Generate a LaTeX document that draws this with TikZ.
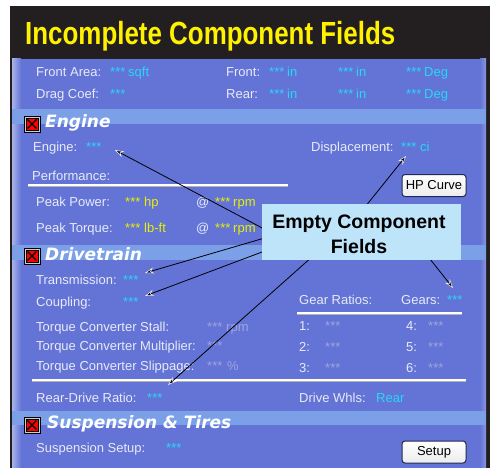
\documentclass[tikz,border=0pt]{standalone}
\usepackage{fontspec}
\setmainfont{Liberation Sans}
\newfontfamily\hdrfont{DejaVu Sans}
\usetikzlibrary{arrows.meta}
\definecolor{framec}{RGB}{35,31,32}
\definecolor{panelc}{RGB}{99,116,214}
\definecolor{bandc}{RGB}{124,160,232}
\definecolor{lblc}{RGB}{232,234,246}
\definecolor{cyv}{RGB}{40,215,245}
\definecolor{yelv}{RGB}{232,240,0}
\definecolor{dimc}{RGB}{158,164,222}
\definecolor{titley}{RGB}{255,242,0}
\definecolor{callc}{RGB}{190,228,250}
\definecolor{btnedge}{RGB}{30,40,80}
\newcommand\tx[5]{\node[lbl,#1] (#2) at (#3,#4) {#5};}
\newcommand\hdr[4]{\node[hdrtxt] (#1) at (#2,#3) {#4};}
\newcommand\chkbox[3]{%
  \node[draw=black, line width=0.9pt, fill=gray!40, minimum size=16pt, inner sep=0] (#1) at (#2,#3) {};
  \fill[red, draw=black, line width=0.6pt] (#2-6,#3-6) rectangle (#2+6,#3+6);
  \draw[black, line width=1.3pt] (#2-4.5,#3-4.5) -- (#2+4.5,#3+4.5) (#2-4.5,#3+4.5) -- (#2+4.5,#3-4.5);}
\tikzset{
  lbl/.style={anchor=base west, inner sep=0, text=lblc, font=\fontsize{13}{15}\selectfont},
  cy/.style={text=cyv},
  ye/.style={text=yelv},
  dm/.style={text=dimc},
  hdrtxt/.style={anchor=base west, inner sep=0, text=white, font=\hdrfont\bfseries\itshape\fontsize{17}{20}\selectfont},
  sepline/.style={line width=1.4pt, white},
  btn/.style={draw=btnedge, line width=1pt, rounded corners=3pt, top color=white, bottom color=gray!15,
    minimum width=64pt, minimum height=22pt, inner sep=0, text=black, font=\fontsize{13}{15}\selectfont},
  callarrow/.style={black, line width=0.8pt, -{Stealth[length=9pt,width=6pt,color=white,fill=black,line width=0.5pt]}},
  calltxt/.style={anchor=base, inner sep=0, text=black, font=\bfseries\fontsize{19.5}{24}\selectfont}
}
\begin{document}
\begin{tikzpicture}[x=1pt,y=-1pt]
\useasboundingbox (0,0) rectangle (490,468);
\fill[white] (0,0) rectangle (490,468);
\fill[framec] (10,6) rectangle (490,468);
\fill[panelc] (12,59) rectangle (486,468);
\shade[left color=panelc!55!white, right color=panelc] (12,59) rectangle (21,468);
\shade[left color=panelc, right color=panelc!75!white] (480,59) rectangle (486,468);
\fill[bandc] (12,109) rectangle (486,124);
\fill[bandc] (12,245) rectangle (486,260);
\fill[bandc] (12,411) rectangle (486,425);
% title
\node[anchor=base west, inner sep=0, text=titley, font=\bfseries\fontsize{32}{36}\selectfont] (title) at (25,45) {\scalebox{0.81}[1]{Incomplete Component Fields}};
% aero rows
\tx{}{fa}{36}{77}{Front Area:}
\tx{cy}{fav}{110}{77}{***}
\tx{cy}{fau}{128}{77}{sqft}
\tx{}{fr}{226}{77}{Front:}
\tx{cy}{fr1}{269}{77}{***}
\tx{cy}{fr1u}{287}{77}{in}
\tx{cy}{fr2}{338}{77}{***}
\tx{cy}{fr2u}{356}{77}{in}
\tx{cy}{fr3}{406}{77}{***}
\tx{cy}{fr3u}{424}{77}{Deg}
\tx{}{dc}{36}{99}{Drag Coef:}
\tx{cy}{dcv}{110}{99}{***}
\tx{}{rr}{226}{99}{Rear:}
\tx{cy}{rr1}{269}{99}{***}
\tx{cy}{rr1u}{287}{99}{in}
\tx{cy}{rr2}{338}{99}{***}
\tx{cy}{rr2u}{356}{99}{in}
\tx{cy}{rr3}{406}{99}{***}
\tx{cy}{rr3u}{424}{99}{Deg}
% engine section
\chkbox{ck1}{32}{124}
\hdr{hEng}{45}{128}{Engine}
\tx{}{en}{33}{152}{Engine:}
\tx{cy}{env}{86}{152}{***}
\tx{}{disp}{311}{152}{Displacement:}
\tx{cy}{dispv}{401}{152}{***}
\tx{cy}{dispu}{420}{152}{ci}
\node[btn] (hp) at (434,185.5) {HP Curve};
\tx{}{perf}{32}{181}{Performance:}
\draw[gray!60, line width=1pt] (28,186.5) -- (288,186.5);
\draw[sepline] (28,185) -- (288,185);
\tx{}{pp}{36}{206}{Peak Power:}
\tx{ye}{ppv}{125}{206}{***}
\tx{ye}{ppu}{144}{206}{hp}
\tx{}{ppat}{196}{206}{@}
\tx{ye}{ppr}{215}{206}{***}
\tx{ye}{ppru}{233}{206}{rpm}
\tx{}{pt}{36}{232}{Peak Torque:}
\tx{ye}{ptv}{125}{232}{***}
\tx{ye}{ptu}{144}{232}{lb-ft}
\tx{}{ptat}{196}{232}{@}
\tx{ye}{ptr}{215}{232}{***}
\tx{ye}{ptru}{233}{232}{rpm}
% drivetrain
\chkbox{ck2}{32}{256}
\hdr{hDrv}{45}{260}{Drivetrain}
\tx{}{tr}{36}{284}{Transmission:}
\tx{cy}{trv}{123}{284}{***}
\tx{}{cp}{36}{306}{Coupling:}
\tx{cy}{cpv}{123}{306}{***}
\tx{}{gr}{299}{304}{Gear Ratios:}
\tx{}{gs}{401}{304}{Gears:}
\tx{cy}{gsv}{447}{304}{***}
\draw[gray!60, line width=1pt] (297,314.5) -- (462,314.5);
\draw[sepline] (297,313) -- (462,313);
\tx{}{tcs}{36}{331}{Torque Converter Stall:}
\tx{dm}{tcsv}{207}{331}{***}
\tx{dm}{tcsu}{226}{331}{rpm}
\tx{}{tcm}{36}{350}{Torque Converter Multiplier:}
\tx{dm}{tcmv}{207}{350}{***}
\tx{}{tcl}{36}{370}{Torque Converter Slippage:}
\tx{dm}{tclv}{207}{370}{***}
\tx{dm}{tclu}{227}{370}{\%}
\tx{}{g1}{299}{330}{1:}
\tx{dm}{g1v}{325}{330}{***}
\tx{}{g4}{406}{330}{4:}
\tx{dm}{g4v}{428}{330}{***}
\tx{}{g2}{299}{351}{2:}
\tx{dm}{g2v}{325}{351}{***}
\tx{}{g5}{406}{351}{5:}
\tx{dm}{g5v}{428}{351}{***}
\tx{}{g3}{299}{372}{3:}
\tx{dm}{g3v}{325}{372}{***}
\tx{}{g6}{406}{372}{6:}
\tx{dm}{g6v}{428}{372}{***}
\draw[gray!60, line width=1pt] (32,381.5) -- (466,381.5);
\draw[sepline] (32,380) -- (466,380);
\tx{}{rd}{36}{402}{Rear-Drive Ratio:}
\tx{cy}{rdv}{147}{402}{***}
\tx{}{dw}{299}{402}{Drive Whls:}
\tx{cy}{dwv}{376}{402}{Rear}
% suspension
\chkbox{ck3}{32}{425}
\hdr{hSus}{47}{428}{Suspension \& Tires}
\tx{}{ss}{36}{452}{Suspension Setup:}
\tx{cy}{ssv}{166}{452}{***}
\node[btn] (setup) at (434,452) {Setup};
% callout arrows
\coordinate (s1) at (266,230); \coordinate (t1) at (115,150);
\coordinate (s2) at (365,207); \coordinate (t2) at (406,156);
\coordinate (s3) at (268,237); \coordinate (t3) at (145,273);
\coordinate (s4) at (270,249); \coordinate (t4) at (145,296);
\coordinate (s5) at (313,256); \coordinate (t5) at (168,385);
\coordinate (s6) at (430,259); \coordinate (t6) at (453,288);
\foreach \i in {1,...,6} {\draw[callarrow] (s\i) -- (t\i);}
% callout box
\node[fill=callc, minimum width=199pt, minimum height=56pt, inner sep=0] (cb) at (361.5,232) {};
\node[calltxt] (cbt1) at (359,228) {Empty Component};
\node[calltxt] (cbt2) at (359,253) {Fields};
\end{tikzpicture}
\end{document}
